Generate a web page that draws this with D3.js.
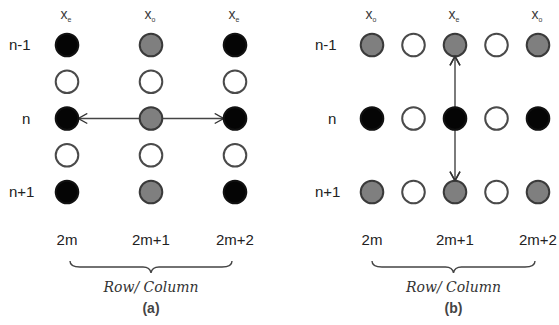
<!DOCTYPE html>
<html>
<head>
<meta charset="utf-8">
<script src="https://cdn.jsdelivr.net/npm/d3@7"></script>
<style>
  body { margin: 0; background: #fff; }
</style>
</head>
<body>
<script>
// rows shared by both panels (blank ones are the in-between rows of panel a)
const rowKeys = ["n-1", "r1", "n", "r3", "n+1"];
const rowLabels = ["n-1", "", "n", "", "n+1"];

// panel (a): 3 columns x 5 rows
const headersA = ["e", "o", "e"];
const cellsA = [
    ["black", "grey", "black"],
    ["white", "white", "white"],
    ["black", "grey", "black"],
    ["white", "white", "white"],
    ["black", "grey", "black"]
];
const bottomA = ["2m", "2m+1", "2m+2"];

// panel (b): 5 columns x 3 rows
const rowsB = ["n-1", "n", "n+1"];
const headersB = ["o", "", "e", "", "o"];
const cellsB = [
    ["grey", "white", "grey", "white", "grey"],
    ["black", "white", "black", "white", "black"],
    ["grey", "white", "grey", "white", "grey"]
];
const bottomB = ["2m", "", "2m+1", "", "2m+2"];

function main(){
    const svg = d3.select("body").append("svg")
        .attr("width", 559)
        .attr("height", 325)
        .attr("font-family", "Liberation Sans, Arial, sans-serif");

    const defs = svg.append("defs");
    defs.append("marker")
        .attr("id", "head")
        .attr("viewBox", "-1 -6 12 12")
        .attr("refX", 9).attr("refY", 0)
        .attr("markerWidth", 12).attr("markerHeight", 12)
        .attr("markerUnits", "userSpaceOnUse")
        .attr("orient", "auto-start-reverse")
        .append("path")
        .attr("d", "M0,-5 L9,0 L0,5")
        .attr("fill", "none")
        .attr("stroke", "#333")
        .attr("stroke-width", 1.4);

    const yScale = d3.scalePoint().domain(rowKeys).range([45, 192]);
    const xA = d3.scalePoint().domain(d3.range(3)).range([67, 235]);
    const xB = d3.scalePoint().domain(d3.range(5)).range([372, 538]);

    const fill = {black: "#050505", grey: "#7f7f7f", white: "#ffffff"};
    const stroke = {black: "#111", grey: "#3a3a3a", white: "#4a4a4a"};
    const r = 11.3;

    // ---- panel (a) ----
    const gA = svg.append("g");

    gA.append("line")
        .attr("x1", xA(0) + r).attr("x2", xA(2) - r)
        .attr("y1", yScale("n")).attr("y2", yScale("n"))
        .attr("stroke", "#444").attr("stroke-width", 1.4)
        .attr("marker-start", "url(#head)")
        .attr("marker-end", "url(#head)");

    cellsA.forEach((row, i) => {
        gA.selectAll(null)
            .data(row)
            .enter()
            .append("circle")
            .attr("cx", (d, j) => xA(j))
            .attr("cy", yScale(rowKeys[i]))
            .attr("r", r)
            .attr("fill", d => fill[d])
            .attr("stroke", d => stroke[d])
            .attr("stroke-width", 2);
    });

    drawLabels(gA, xA, headersA, rowLabels.map((t, i) => ({t: t, k: rowKeys[i]})), 9);
    drawBottom(gA, xA, bottomA, "(a)", xA(0) + 3, xA(2) - 3);

    // ---- panel (b) ----
    const gB = svg.append("g");
    const cx = xB(2);
    gB.append("line")
        .attr("x1", cx).attr("x2", cx)
        .attr("y1", yScale("n")).attr("y2", yScale("n-1") + r)
        .attr("stroke", "#444").attr("stroke-width", 1.4)
        .attr("marker-end", "url(#head)");
    gB.append("line")
        .attr("x1", cx).attr("x2", cx)
        .attr("y1", yScale("n")).attr("y2", yScale("n+1") - r)
        .attr("stroke", "#444").attr("stroke-width", 1.4)
        .attr("marker-end", "url(#head)");

    cellsB.forEach((row, i) => {
        gB.selectAll(null)
            .data(row)
            .enter()
            .append("circle")
            .attr("cx", (d, j) => xB(j))
            .attr("cy", yScale(rowsB[i]))
            .attr("r", r)
            .attr("fill", d => fill[d])
            .attr("stroke", d => stroke[d])
            .attr("stroke-width", 2);
    });
    // arrow heads again on top of the circles
    gB.append("line")
        .attr("x1", cx).attr("x2", cx)
        .attr("y1", yScale("n-1") + r + 1).attr("y2", yScale("n-1") + r)
        .attr("stroke", "none")
        .attr("marker-end", "url(#head)");
    gB.append("line")
        .attr("x1", cx).attr("x2", cx)
        .attr("y1", yScale("n+1") - r - 1).attr("y2", yScale("n+1") - r)
        .attr("stroke", "none")
        .attr("marker-end", "url(#head)");

    drawLabels(gB, xB, headersB, rowsB.map(t => ({t: t, k: t})), 315);
    drawBottom(gB, xB, bottomB, "(b)", xB(0), xB(4) - 3);

    function drawLabels(g, xs, headers, rows, left){
        const idxs = headers.map((v, j) => v !== "" ? j : -1).filter(j => j >= 0);
        g.selectAll(null)
            .data(idxs)
            .enter()
            .append("text")
            .attr("x", j => xs(j) - 1)
            .attr("y", 19)
            .attr("text-anchor", "middle")
            .attr("font-size", 14)
            .attr("fill", "#3a3a3a")
            .each(function(j){
                d3.select(this).append("tspan").text("x");
                d3.select(this).append("tspan")
                    .attr("font-size", 7)
                    .attr("dy", 3)
                    .text(headers[j]);
            });

        g.selectAll(null)
            .data(rows.filter(d => d.t !== ""))
            .enter()
            .append("text")
            .attr("x", d => d.t === "n" ? left + 13 : left)
            .attr("y", d => yScale(d.k) + 5)
            .attr("font-size", 15)
            .attr("fill", "#222")
            .text(d => d.t);
    }

    function drawBottom(g, xs, labels, cap, bx1, bx2){
        g.selectAll(null)
            .data(labels)
            .enter()
            .append("text")
            .attr("x", (d, j) => xs(j))
            .attr("y", 245)
            .attr("text-anchor", "middle")
            .attr("font-size", 15)
            .attr("fill", "#222")
            .text(d => d);

        const mid = (bx1 + bx2) / 2, y = 261, h = 6;
        const p = d3.path();
        p.moveTo(bx1, y);
        p.quadraticCurveTo(bx1, y + h, bx1 + 10, y + h);
        p.lineTo(mid - 8, y + h);
        p.quadraticCurveTo(mid - 1, y + h, mid, y + h * 2);
        p.quadraticCurveTo(mid + 1, y + h, mid + 8, y + h);
        p.lineTo(bx2 - 10, y + h);
        p.quadraticCurveTo(bx2, y + h, bx2, y);
        g.append("path")
            .attr("d", p.toString())
            .attr("fill", "none")
            .attr("stroke", "#444")
            .attr("stroke-width", 1.4);

        g.append("text")
            .attr("x", mid)
            .attr("y", 292)
            .attr("text-anchor", "middle")
            .attr("font-family", "DejaVu Serif, serif")
            .attr("font-style", "italic")
            .attr("font-size", 14)
            .attr("fill", "#333")
            .text("Row/ Column");

        g.append("text")
            .attr("x", mid)
            .attr("y", 313)
            .attr("text-anchor", "middle")
            .attr("font-size", 14)
            .attr("font-weight", "bold")
            .attr("fill", "#444")
            .text(cap);
    }
}
main();
</script>
</body>
</html>
